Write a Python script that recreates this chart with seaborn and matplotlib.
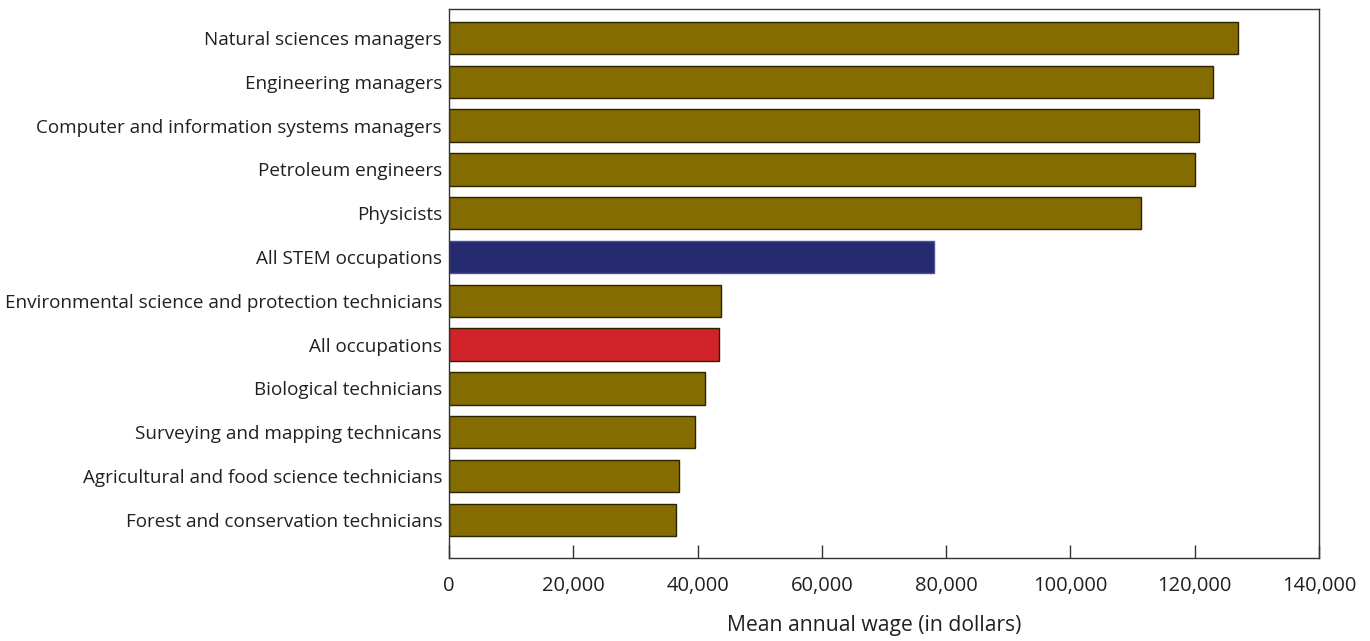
import matplotlib
matplotlib.use("Agg")
import matplotlib.pyplot as plt
import seaborn as sns
import pandas as pd
from matplotlib.ticker import FuncFormatter

occupations = [
    "Natural sciences managers",
    "Engineering managers",
    "Computer and information systems managers",
    "Petroleum engineers",
    "Physicists",
    "All STEM occupations",
    "Environmental science and protection technicians",
    "All occupations",
    "Biological technicians",
    "Surveying and mapping technicans",
    "Agricultural and food science technicians",
    "Forest and conservation technicians",
]
wages = [127000, 122900, 120700, 120000, 111300, 78000, 43700, 43500, 41200, 39600, 37000, 36600]
bar_colors = ["#856c00", "#856c00", "#856c00", "#856c00", "#856c00", "#262a70",
              "#856c00", "#d2232a", "#856c00", "#856c00", "#856c00", "#856c00"]
x_ticks = [0, 20000, 40000, 60000, 80000, 100000, 120000, 140000]
x_label = "Mean annual wage (in dollars)"

df = pd.DataFrame({"occupation": occupations, "wage": wages})

sns.set_style("white")
plt.rcParams["font.family"] = ["Open Sans", "DejaVu Sans"]

fig = plt.figure(figsize=(13.7, 6.41), dpi=100)
ax = fig.add_axes([449/1370, 1 - 558/641, (1319-449)/1370, (558-9.3)/641])

sns.barplot(data=df, x="wage", y="occupation", hue="occupation",
            palette=dict(zip(occupations, bar_colors)), legend=False,
            width=0.74, orient="h", ax=ax, saturation=1)

for patch, c in zip(ax.patches, bar_colors):
    if c == "#262a70":
        patch.set_edgecolor("#4a52a0")
    else:
        patch.set_edgecolor("#2b2300")
    patch.set_linewidth(1.0)

ax.set_xlim(0, 140000)
ax.set_ylim(len(occupations) - 1 + 0.87, -0.655)
ax.set_xticks(x_ticks)
ax.xaxis.set_major_formatter(FuncFormatter(lambda v, p: f"{int(v):,}"))
ax.tick_params(axis="x", direction="in", length=9.4, width=1, color="#333333",
               pad=13, labelsize=14.5, labelcolor="#231f20", bottom=True)
ax.tick_params(axis="y", length=0, pad=5, labelsize=13.6, labelcolor="#231f20", left=False)
ax.set_ylabel("")
ax.set_xlabel(x_label, fontsize=15.2, color="#231f20", labelpad=14)
ax.xaxis.label.set_x(0.4885)
for s in ax.spines.values():
    s.set_visible(True)
    s.set_color("#333333")
    s.set_linewidth(1.0)

fig.savefig("out.png", dpi=100)
